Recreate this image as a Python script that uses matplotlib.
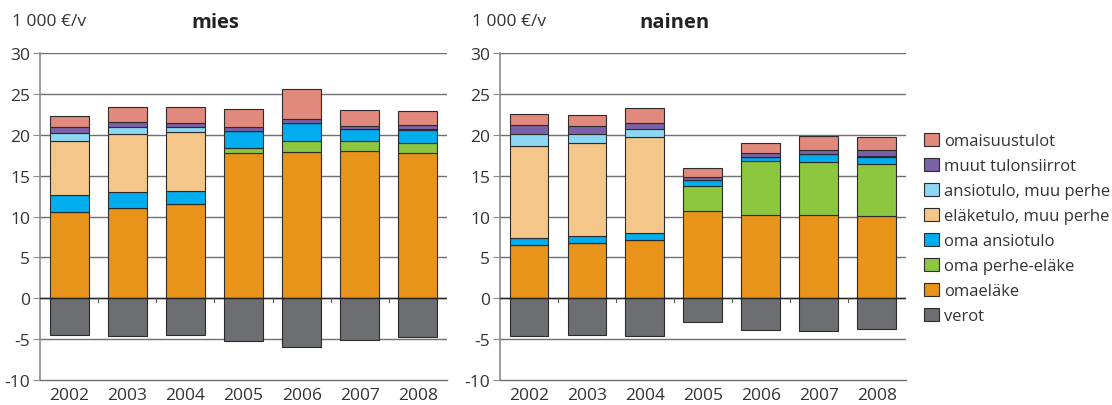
import numpy as np
import matplotlib.pyplot as plt

plt.rcParams['font.family'] = ['Open Sans', 'DejaVu Sans']
plt.rcParams['axes.unicode_minus'] = False

years = ['2002', '2003', '2004', '2005', '2006', '2007', '2008']

series_names = ['omaeläke', 'oma perhe-eläke', 'oma ansiotulo',
                'eläketulo, muu perhe', 'ansiotulo, muu perhe',
                'muut tulonsiirrot', 'omaisuustulot']
series_colors = ['#E8941A', '#8DC63F', '#00AEEF', '#F5C68A',
                 '#8DD7F5', '#7B62A8', '#E0897C']
verot_color = '#6D6E71'

# mies, 1 000 €/v
mies_omaelake = [10.6, 11.1, 11.6, 17.75, 17.85, 18.0, 17.75]
mies_perheelake = [0.0, 0.0, 0.0, 0.65, 1.35, 1.3, 1.3]
mies_ansiotulo = [2.1, 1.95, 1.5, 2.1, 2.3, 1.4, 1.6]
mies_elaketulo_muu = [6.5, 7.05, 7.3, 0.0, 0.0, 0.0, 0.0]
mies_ansiotulo_muu = [1.0, 0.85, 0.55, 0.0, 0.0, 0.0, 0.1]
mies_tulonsiirrot = [0.8, 0.65, 0.55, 0.5, 0.5, 0.35, 0.45]
mies_omaisuus = [1.3, 1.8, 1.95, 2.2, 3.65, 2.05, 1.75]
mies_verot = [-4.5, -4.65, -4.5, -5.2, -5.95, -5.1, -4.7]

# nainen, 1 000 €/v
nainen_omaelake = [6.55, 6.75, 7.1, 10.7, 10.25, 10.2, 10.05]
nainen_perheelake = [0.0, 0.0, 0.0, 3.1, 6.6, 6.5, 6.4]
nainen_ansiotulo = [0.85, 0.85, 0.95, 0.65, 0.5, 0.9, 0.85]
nainen_elaketulo_muu = [11.2, 11.35, 11.75, 0.0, 0.0, 0.0, 0.0]
nainen_ansiotulo_muu = [1.5, 1.2, 0.9, 0.0, 0.0, 0.0, 0.15]
nainen_tulonsiirrot = [1.15, 0.95, 0.8, 0.35, 0.45, 0.5, 0.7]
nainen_omaisuus = [1.35, 1.35, 1.8, 1.2, 1.25, 1.75, 1.55]
nainen_verot = [-4.65, -4.5, -4.6, -2.9, -3.9, -4.05, -3.8]

mies = [mies_omaelake, mies_perheelake, mies_ansiotulo, mies_elaketulo_muu,
        mies_ansiotulo_muu, mies_tulonsiirrot, mies_omaisuus]
nainen = [nainen_omaelake, nainen_perheelake, nainen_ansiotulo,
          nainen_elaketulo_muu, nainen_ansiotulo_muu, nainen_tulonsiirrot,
          nainen_omaisuus]

fig = plt.figure(figsize=(11.12, 4.06), dpi=100)
ax_m = fig.add_axes([0.036, 0.0616, 0.366, 0.805])
ax_n = fig.add_axes([0.4496, 0.0616, 0.365, 0.805])

x = np.arange(len(years))
width = 0.67
edge = dict(edgecolor='#2b2b2b', linewidth=0.8)


def draw_panel(ax, stack, verot, title, unit_x):
    bottom = np.zeros(len(years))
    handles = []
    for vals, name, col in zip(stack, series_names, series_colors):
        vals = np.array(vals)
        h = ax.bar(x, vals, width, bottom=bottom, color=col, label=name,
                   zorder=3, **edge)
        handles.append(h)
        bottom += vals
    hv = ax.bar(x, verot, width, color=verot_color, label='verot',
                zorder=3, **edge)
    handles.append(hv)

    ax.set_xlim(-0.5, len(years) - 0.5)
    ax.set_ylim(-10, 30)
    ax.set_yticks(range(-10, 31, 5))
    ax.set_xticks(x)
    ax.set_xticklabels(years)
    ax.tick_params(axis='x', length=0, labelsize=12.5, labelcolor='#333333', pad=5)
    ax.tick_params(axis='y', length=5, color='#8c8c8c', labelsize=12.5,
                   labelcolor='#333333', pad=2)

    # horizontal grid
    for yv in range(-5, 31, 5):
        ax.axhline(yv, color='#6f6f6f', linewidth=1.0, zorder=1)
    ax.axhline(0, color='#222222', linewidth=1.0, zorder=4)

    # category separators on the zero line
    for b in np.arange(0.5, len(years) - 0.5, 1.0):
        ax.plot([b, b], [0, -0.4], color='#555555', linewidth=0.8, zorder=4)

    for s in ['top', 'right']:
        ax.spines[s].set_visible(False)
    ax.spines['left'].set_color('#8c8c8c')
    ax.spines['left'].set_linewidth(1.2)
    ax.spines['bottom'].set_color('#6f6f6f')
    ax.spines['bottom'].set_linewidth(1.0)

    fig.text(unit_x / 1112, 1 - 22 / 406, '1 000 €/v', fontsize=12.5,
             color='#333333', ha='left', va='center')
    ax.text(0.43, 1.095, title, transform=ax.transAxes, fontsize=14.5,
            fontweight='bold', color='#222222', ha='center', va='center')
    return handles


handles = draw_panel(ax_m, mies, mies_verot, 'mies', 12)
draw_panel(ax_n, nainen, nainen_verot, 'nainen', 472)

labels = [h.get_label() for h in handles]
order = [6, 5, 4, 3, 2, 1, 0, 7]
leg = fig.legend([handles[i] for i in order], [labels[i] for i in order],
                 loc='center left', bbox_to_anchor=(0.825, 0.435),
                 frameon=False, fontsize=12, handlelength=0.9,
                 handleheight=0.9, handletextpad=0.3, labelspacing=0.5,
                 borderaxespad=0)
for t in leg.get_texts():
    t.set_color('#333333')

fig.savefig('out.png', dpi=100)
